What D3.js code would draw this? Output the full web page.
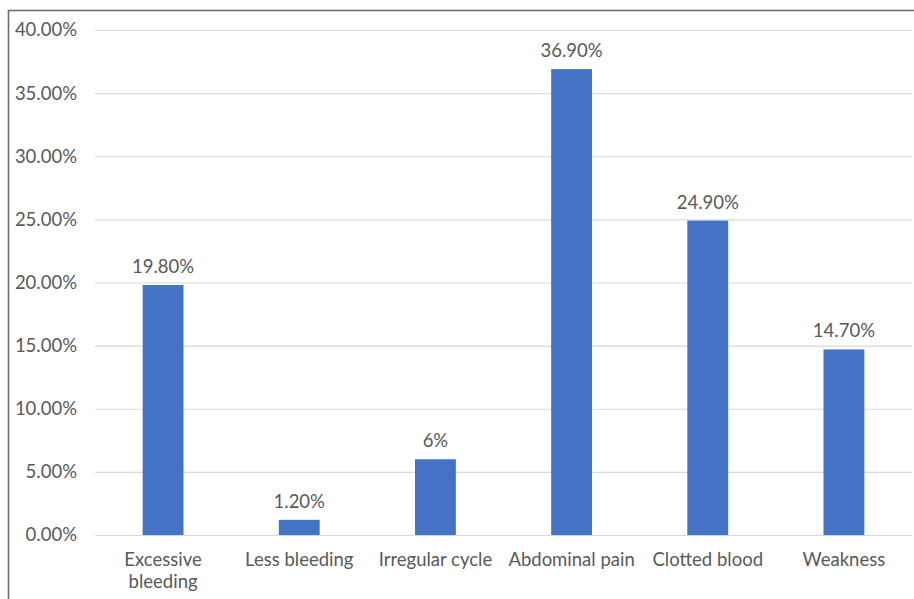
<!DOCTYPE html>
<html>
<head>
<meta charset="utf-8">
<script src="https://cdn.jsdelivr.net/npm/d3@7"></script>
<style>
  html, body { margin: 0; padding: 0; background: #fff; }
  svg { display: block; }
  text { font-family: Lato, "Open Sans", sans-serif; fill: #595959; }
</style>
</head>
<body>
<svg id="chart" width="914" height="599"></svg>
<script>
// Menstrual complaints, share of respondents (%)
const categories = ["Excessive bleeding", "Less bleeding", "Irregular cycle", "Abdominal pain", "Clotted blood", "Weakness"];
const values = [19.8, 1.2, 6, 36.9, 24.9, 14.7];
const valueLabels = ["19.80%", "1.20%", "6%", "36.90%", "24.90%", "14.70%"];
const yTicks = [0, 5, 10, 15, 20, 25, 30, 35, 40];

const svg = d3.select("#chart");
const W = 914, H = 599;
const plot = { left: 95, right: 912, top: 30, bottom: 535 };
const fontSize = "18.5px";

// chart frame (top and left edges visible)
svg.append("rect")
  .attr("x", 8.5).attr("y", 10.5)
  .attr("width", W + 10).attr("height", H + 10)
  .attr("fill", "none").attr("stroke", "#6e6e6e").attr("stroke-width", 1.6);

const x = d3.scaleBand()
  .domain(categories)
  .range([plot.left, plot.right])
  .paddingInner(0.7)
  .paddingOuter(0.35);

const y = d3.scaleLinear()
  .domain([0, 40])
  .range([plot.bottom, plot.top]);

// horizontal gridlines + y tick labels
const yAxis = d3.axisLeft(y)
  .tickValues(yTicks)
  .tickSize(-(plot.right - plot.left))
  .tickPadding(18)
  .tickFormat(d => d.toFixed(2) + "%");

const gy = svg.append("g")
  .attr("transform", `translate(${plot.left},0)`)
  .call(yAxis);
gy.select(".domain").remove();
gy.selectAll(".tick line").attr("stroke", "#d9d9d9").attr("stroke-width", 1.2);
gy.selectAll(".tick text")
  .attr("x", -18).attr("text-anchor", "end")
  .style("font-size", fontSize).style("fill", "#595959");

// bars
svg.append("g").selectAll("rect")
  .data(categories)
  .join("rect")
  .attr("x", d => x(d))
  .attr("y", (d, i) => y(values[i]))
  .attr("width", x.bandwidth())
  .attr("height", (d, i) => y(0) - y(values[i]))
  .attr("fill", "#4472c4");

// value labels
svg.append("g").selectAll("text")
  .data(categories)
  .join("text")
  .attr("x", d => x(d) + x.bandwidth() / 2)
  .attr("y", (d, i) => y(values[i]) - 12)
  .attr("text-anchor", "middle")
  .style("font-size", fontSize)
  .text((d, i) => valueLabels[i]);

// category axis labels, wrapped to the band step
const xAxis = d3.axisBottom(x).tickSize(0).tickPadding(0);
const gx = svg.append("g")
  .attr("transform", `translate(0,${plot.bottom})`)
  .call(xAxis);
gx.select(".domain").remove();
gx.selectAll(".tick text").remove();
gx.selectAll(".tick").each(function(d) {
  const t = d3.select(this).append("text")
    .attr("text-anchor", "middle")
    .style("font-size", fontSize);
  const maxW = x.step() - 4;
  const words = d.split(" ");
  let line = [], lines = [];
  const tmp = t.append("tspan");
  words.forEach(w => {
    const trial = line.concat(w).join(" ");
    tmp.text(trial);
    if (tmp.node().getComputedTextLength() > maxW && line.length) {
      lines.push(line.join(" "));
      line = [w];
    } else {
      line.push(w);
    }
  });
  lines.push(line.join(" "));
  tmp.remove();
  lines.forEach((l, i) => {
    t.append("tspan").attr("x", 0).attr("y", 31 + i * 22).text(l);
  });
});
</script>
</body>
</html>
